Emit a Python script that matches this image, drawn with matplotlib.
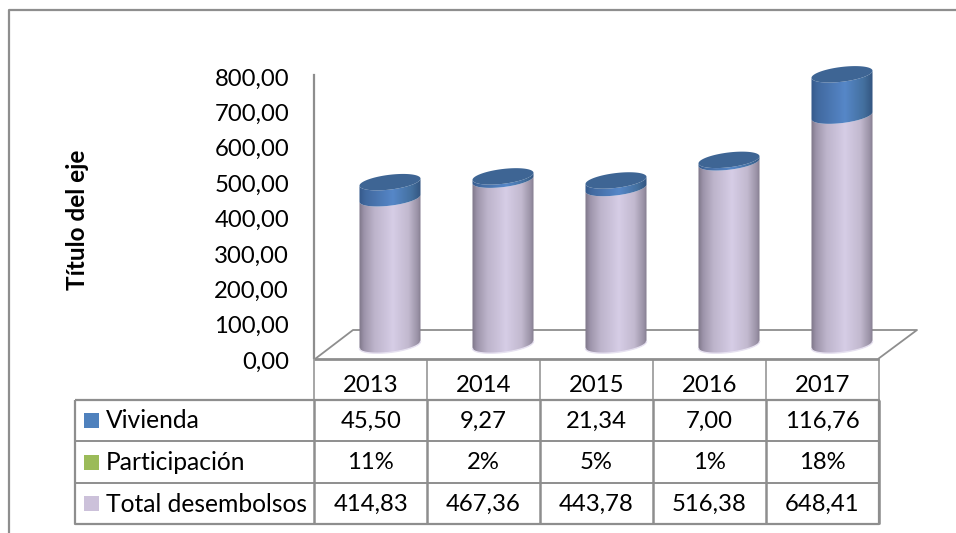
# -*- coding: utf-8 -*-
import numpy as np
import matplotlib
matplotlib.use('Agg')
import matplotlib.pyplot as plt
from matplotlib.colors import LinearSegmentedColormap
from matplotlib.patches import PathPatch
from matplotlib.path import Path
from matplotlib.transforms import ScaledTranslation

plt.rcParams['font.family'] = ['Lato', 'DejaVu Sans']

years = ['2013', '2014', '2015', '2016', '2017']
vivienda = [45.50, 9.27, 21.34, 7.00, 116.76]
participacion = [11, 2, 5, 1, 18]
total_desembolsos = [414.83, 467.36, 443.78, 516.38, 648.41]
y_ticks = [0, 100, 200, 300, 400, 500, 600, 700, 800]
y_title = 'Título del eje'

W, H = 956, 533
GREY = '#8e8e8e'
PURPLE = '#ccc1da'
BLUE = '#4f81bd'
GREEN = '#9bbb59'

purple_cmap = LinearSegmentedColormap.from_list('p', [(0, '#7d7688'), (0.08, '#9d94aa'), (0.25, '#bdb4cb'), (0.55, '#d6cde6'), (0.8, '#c2b9cf'), (0.95, '#9a92a6'), (1, '#857d90')])
blue_cmap = LinearSegmentedColormap.from_list('b', [(0, '#35598a'), (0.1, '#41699f'), (0.55, '#5687c8'), (0.85, '#44709f'), (1, '#335580')])


def px_axes(left, top, right, bottom):
    return [left / W, 1 - bottom / H, (right - left) / W, (bottom - top) / H]


def arc(i, v, t):
    # tilted ellipse around the cylinder axis, in data units
    x = i + 0.27 * np.cos(t)
    y = v + 21 * np.sin(t) + 10 * np.cos(t)
    return x, y


def drawSegment(ax, i, v0, v1, cmap):
    t_low = np.linspace(np.pi, 2 * np.pi, 60)
    x0, y0 = arc(i, v0, t_low)
    x1, y1 = arc(i, v1, t_low[::-1])
    verts = np.column_stack([np.r_[x0, x1], np.r_[y0, y1]])
    patch = PathPatch(Path(np.vstack([verts, verts[0]])), fc='none', ec='none', transform=ax.transData)
    ax.add_patch(patch)
    grad = np.linspace(0, 1, 128).reshape(1, -1)
    im = ax.imshow(grad, cmap=cmap, extent=[i - 0.27, i + 0.27, v0 - 40, v1 + 40], aspect='auto', interpolation='bilinear', zorder=3)
    im.set_clip_path(patch)


fig = plt.figure(figsize=(W / 100, H / 100), dpi=100, facecolor='white')

# frame, floor and table rules, in pixels
base = fig.add_axes([0, 0, 1, 1], zorder=1)
base.set_xlim(0, W)
base.set_ylim(H, 0)
base.axis('off')


def rule(xs, ys, lw=1.5):
    base.plot(xs, ys, color=GREY, lw=lw, solid_capstyle='butt', clip_on=False)


rule([9.5, 9.5, 956], [533, 10, 10], 1.6)
rule([315, 353, 917, 878], [359, 330, 330, 359], 1.3)
rule([314, 879], [359, 359], 2)
rule([75, 879, 879, 75, 75], [400, 400, 524, 524, 400], 1.6)
rule([75, 879], [441, 441], 1.4)
rule([75, 879], [483, 483], 1.4)
col_edges = [314.5, 427, 540, 653, 766, 879]
for x in col_edges:
    rule([x, x], [359, 400], 1.1)
    rule([x, x], [400, 524], 1.8)

# value axis on the front plane
front = fig.add_axes(px_axes(314, 75, 878, 358), zorder=2)
front.patch.set_visible(False)
front.set_ylim(0, 800)
front.set_xticks([])
front.set_yticks(y_ticks)
front.set_yticklabels([('%.2f' % v).replace('.', ',') for v in y_ticks], fontsize=17.2, color='black')
front.tick_params(axis='y', length=0, pad=18)
shift = ScaledTranslation(0, -2 / 100, fig.dpi_scale_trans)
for lab in front.get_yticklabels():
    lab.set_transform(lab.get_transform() + shift)
for s in ['top', 'right', 'bottom']:
    front.spines[s].set_visible(False)
front.spines['left'].set_color(GREY)
front.spines['left'].set_linewidth(1.6)

# cylinders sit further back than the front plane
bars = fig.add_axes(px_axes(333.5, 62, 898.5, 345 + 40 * 283 / 800), zorder=3)
bars.patch.set_visible(False)
bars.axis('off')
for i in range(len(years)):
    top_total = total_desembolsos[i]
    top_all = top_total + vivienda[i]
    drawSegment(bars, i, 0, top_total, purple_cmap)
    drawSegment(bars, i, top_total, top_all, blue_cmap)
    t = np.linspace(0, 2 * np.pi, 120)
    ex, ey = arc(i, top_all, t)
    bars.fill(ex, ey, color='#3e6594', lw=0, zorder=4)
    lx, ly = arc(i, 0, np.linspace(np.pi, 2 * np.pi, 60))
    bars.plot(lx, ly, color='#e6e1f0', lw=1, zorder=4)
bars.set_xlim(-0.5, 4.5)
bars.set_ylim(-40, 800)

# table text
base.text(78, 220, y_title, rotation=90, ha='center', va='center', fontsize=17.5, fontweight='bold')
row_y = [421, 462.5, 504]
row_names = ['Vivienda', 'Participación', 'Total desembolsos']
row_cols = [BLUE, GREEN, PURPLE]
row_vals = [
    [('%.2f' % v).replace('.', ',') for v in vivienda],
    ['%d%%' % v for v in participacion],
    [('%.2f' % v).replace('.', ',') for v in total_desembolsos],
]
for r in range(3):
    ys = 420.5 + 41.5 * r
    base.fill([84, 99, 99, 84], [ys - 7.5, ys - 7.5, ys + 7.5, ys + 7.5], color=row_cols[r], lw=0)
    base.text(106, row_y[r], row_names[r], ha='left', va='center', fontsize=17.7)
    for c in range(5):
        xc = (col_edges[c] + col_edges[c + 1]) / 2
        base.text(xc, row_y[r], row_vals[r][c], ha='center', va='center', fontsize=17.2)
for c in range(5):
    xc = (col_edges[c] + col_edges[c + 1]) / 2
    base.text(xc, 385, years[c], ha='center', va='center', fontsize=17.2)

fig.savefig('out.png', dpi=100)
